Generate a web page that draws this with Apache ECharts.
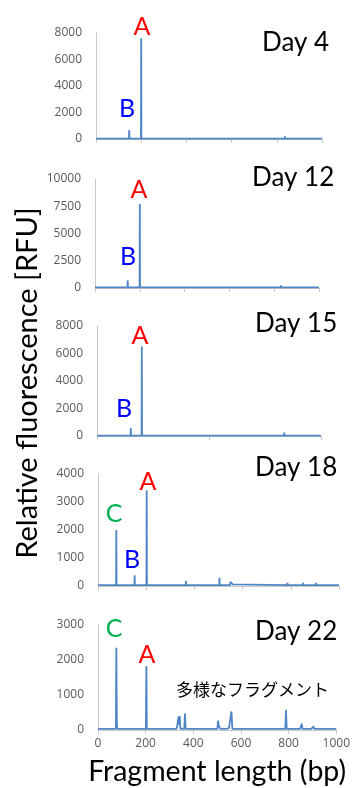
<!DOCTYPE html>
<html>
<head>
<meta charset="utf-8">
<script src="https://cdn.jsdelivr.net/npm/echarts@6/dist/echarts.min.js"></script>
<style>
html,body{margin:0;padding:0;background:#fff;}
#chart{width:353px;height:788px;}
</style>
</head>
<body>
<div id="chart"></div>
<script>
// ---- Data (fragment length in bp, relative fluorescence in RFU) ----
const dayLabels = ["Day 4", "Day 12", "Day 15", "Day 18", "Day 22"];
const yMax = [8000, 10000, 8000, 4000, 3000];
const yStep = [2000, 2500, 2000, 1000, 1000];
const xTickStep = [200, 200, 500, 200, 200];

const day4Len = [0, 146, 147, 148, 199, 200, 201, 555, 556, 557, 835, 836, 837, 902, 903, 904, 1000];
const day4Rfu = [30, 30, 680, 30, 30, 7600, 30, 30, 100, 30, 30, 200, 30, 30, 80, 30, 30];

const day12Len = [0, 145, 146, 147, 199, 200, 201, 548, 549, 550, 829, 830, 831, 899, 900, 901, 1000];
const day12Rfu = [60, 60, 700, 60, 60, 7700, 60, 60, 150, 60, 60, 250, 60, 60, 150, 60, 60];

const day15Len = [0, 21, 22, 23, 76, 77, 78, 150, 151, 152, 199, 200, 201, 552, 553, 554, 835, 836, 837, 902, 903, 904, 1000];
const day15Rfu = [30, 30, 100, 30, 30, 80, 30, 30, 560, 30, 30, 6500, 30, 30, 80, 30, 30, 250, 30, 30, 100, 30, 30];

const day18Len = [0, 75, 76, 77, 151, 152, 153, 201, 202, 203, 333, 334, 335, 364, 365, 366, 503, 504, 505, 548, 550, 553, 556, 558, 560, 785, 786, 787, 850, 851, 852, 904, 905, 906, 1000];
const day18Rfu = [30, 30, 2000, 30, 30, 380, 30, 30, 3420, 30, 30, 100, 30, 30, 180, 30, 30, 290, 30, 30, 150, 110, 200, 60, 30, 30, 110, 30, 30, 110, 30, 30, 110, 30, 30];

const day22Len = [0, 25, 27, 29, 75, 77, 79, 81, 150, 152, 154, 201, 203, 205, 330, 333, 336, 338, 340, 343, 346, 362, 365, 368, 501, 504, 507, 510, 513, 540, 545, 550, 556, 560, 564, 786, 789, 792, 848, 852, 855, 858, 895, 900, 905, 908, 1000];
const day22Rfu = [30, 30, 70, 30, 30, 2350, 200, 30, 30, 50, 30, 30, 1820, 30, 30, 150, 130, 380, 150, 400, 30, 30, 470, 30, 30, 270, 120, 100, 30, 30, 80, 60, 100, 530, 30, 30, 570, 30, 30, 80, 180, 30, 30, 80, 100, 30, 30];

const panelLen = [day4Len, day12Len, day15Len, day18Len, day22Len];
const panelRfu = [day4Rfu, day12Rfu, day15Rfu, day18Rfu, day22Rfu];

const yTitle = "Relative fluorescence [RFU]";
const xTitle = "Fragment length (bp)";
const noteText = "多様なフラグメント";

// ---- Layout ----
const grids = [
  {left: 96, top: 33, width: 226, height: 106},
  {left: 95, top: 179, width: 224, height: 109},
  {left: 97, top: 326, width: 224, height: 110},
  {left: 98, top: 474, width: 241, height: 112},
  {left: 98, top: 625, width: 241, height: 105}
];

const lineColor = '#4f86c6';
const axisGray = '#c8c8c8';
const tickFont = {fontFamily: 'Open Sans', fontSize: 12, color: '#595959'};
const bigFont = 'Lato';

const xAxes = [], yAxes = [], series = [];
for (let i = 0; i < 5; i++) {
  const last = i === 4;
  xAxes.push({
    type: 'value', gridIndex: i, min: 0, max: 1000, interval: xTickStep[i],
    axisLine: {show: true, lineStyle: {color: axisGray, width: 1}},
    axisTick: {show: true, length: 4, lineStyle: {color: axisGray}},
    axisLabel: Object.assign({show: last, margin: 8, formatter: v => String(v)}, tickFont),
    splitLine: {show: false},
    name: last ? xTitle : '',
    nameLocation: 'middle', nameGap: 27,
    nameTextStyle: {fontFamily: bigFont, fontSize: 28.5, color: '#000'}
  });
  yAxes.push({
    type: 'value', gridIndex: i, min: 0, max: yMax[i], interval: yStep[i],
    axisLine: {show: true, lineStyle: {color: axisGray, width: 1}},
    axisTick: {show: false},
    axisLabel: Object.assign({margin: 14, formatter: v => String(v)}, tickFont),
    splitLine: {show: false}
  });
  series.push({
    type: 'line', xAxisIndex: i, yAxisIndex: i,
    data: panelLen[i].map((x, k) => [x, panelRfu[i][k]]),
    showSymbol: false, symbol: 'none',
    lineStyle: {color: lineColor, width: 1.8},
    animation: false
  });
}

function txt(x, y, s, color, size, align) {
  return {type: 'text', x: x, y: y,
    style: {text: s, fill: color, font: size + 'px ' + bigFont, textAlign: align || 'center', textVerticalAlign: 'middle'}};
}

const graphics = [
  {type: 'text', x: 28, y: 383, rotation: Math.PI / 2,
    style: {text: yTitle, fill: '#000', font: '29px ' + bigFont, textAlign: 'center', textVerticalAlign: 'middle'}},
  txt(262, 43, dayLabels[0], '#000', 26, 'left'),
  txt(252, 178, dayLabels[1], '#000', 26, 'left'),
  txt(255, 324, dayLabels[2], '#000', 26, 'left'),
  txt(255, 468, dayLabels[3], '#000', 26, 'left'),
  txt(255, 632, dayLabels[4], '#000', 26, 'left'),
  // Peak annotations
  txt(142, 27, 'A', '#ff0000', 25), txt(127, 109, 'B', '#0000ff', 25),
  txt(139, 190, 'A', '#ff0000', 25), txt(128, 257, 'B', '#0000ff', 25),
  txt(140, 336, 'A', '#ff0000', 25), txt(124, 409, 'B', '#0000ff', 25),
  txt(148, 482, 'A', '#ff0000', 25), txt(132, 560, 'B', '#0000ff', 25), txt(114, 514, 'C', '#00b050', 25),
  txt(147, 655, 'A', '#ff0000', 25), txt(114, 629, 'C', '#00b050', 25),
  {type: 'text', x: 176, y: 690,
    style: {text: noteText, fill: '#000', font: '17px "Noto Sans CJK JP"', textAlign: 'left', textVerticalAlign: 'middle'}}
];

const chart = echarts.init(document.getElementById('chart'));
chart.setOption({
  animation: false,
  backgroundColor: '#fff',
  grid: grids,
  xAxis: xAxes,
  yAxis: yAxes,
  series: series,
  graphic: graphics
});
</script>
</body>
</html>
